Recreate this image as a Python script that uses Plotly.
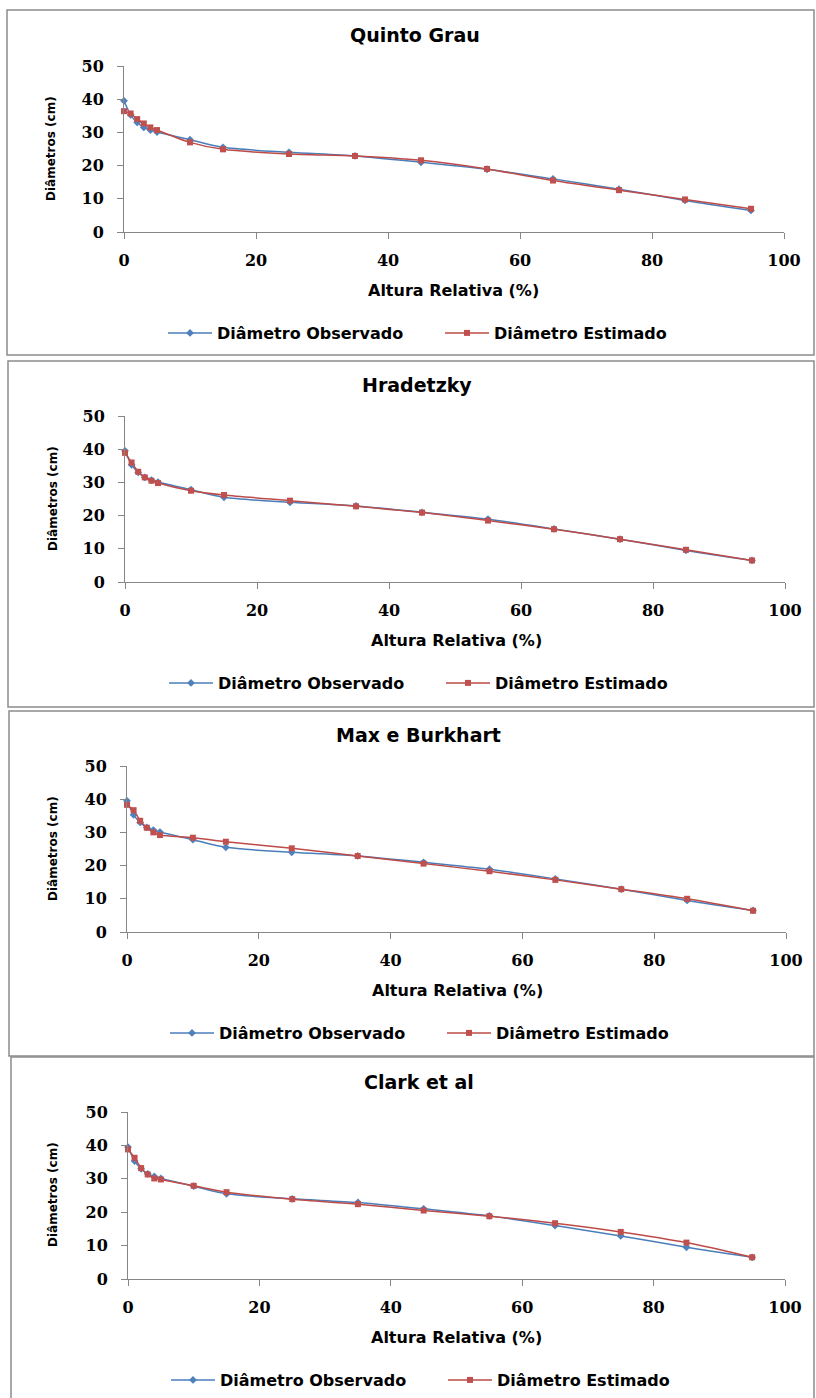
import plotly.graph_objects as go

# Relative height (%) of each measured section along the stem
altura = [0, 1, 2, 3, 4, 5, 10, 15, 25, 35, 45, 55, 65, 75, 85, 95]

# Observed diameters (cm)
diam_observado = [39.5, 35.3, 33.0, 31.5, 30.7, 30.1, 27.8, 25.5, 24.0, 22.9, 21.0, 18.9, 16.0, 12.9, 9.5, 6.5]

# Estimated diameters (cm) for each taper model
est_quinto_grau = [36.4, 35.7, 34.0, 32.7, 31.5, 30.7, 27.0, 24.9, 23.5, 22.9, 21.6, 19.0, 15.5, 12.6, 9.8, 7.0]
est_hradetzky = [38.9, 36.0, 33.2, 31.5, 30.5, 29.8, 27.5, 26.2, 24.5, 22.8, 20.9, 18.5, 15.9, 12.9, 9.7, 6.5]
est_max_burkhart = [38.3, 36.7, 33.5, 31.4, 30.0, 29.2, 28.4, 27.2, 25.2, 22.9, 20.6, 18.3, 15.7, 12.9, 10.0, 6.4]
est_clark = [38.8, 36.3, 33.2, 31.3, 30.1, 29.8, 27.9, 26.0, 23.9, 22.4, 20.5, 18.8, 16.7, 14.1, 10.9, 6.5]

modelos = ["Quinto Grau", "Hradetzky", "Max e Burkhart", "Clark et al"]
estimados = [est_quinto_grau, est_hradetzky, est_max_burkhart, est_clark]

x_ticks = [0, 20, 40, 60, 80, 100]
y_ticks = [0, 10, 20, 30, 40, 50]

W, H = 816, 1398


def fx(px):
    return px / W


def fy(py):
    return 1 - py / H


# Pixel layout of each panel: frame box, plot area, and text anchors
paineis = [
    dict(box=(7, 10, 814, 355), plot=(124, 66, 784, 232), title=(415, 35), xt=(453, 290), yt=(51, 149), leg=(163, 333)),
    dict(box=(8, 361, 814, 707), plot=(125, 416, 785, 582), title=(417, 385), xt=(456, 640), yt=(53, 499), leg=(164, 683)),
    dict(box=(9, 711, 814, 1056), plot=(127, 766, 786, 932), title=(419, 735), xt=(457, 990), yt=(53, 849), leg=(165, 1033)),
    dict(box=(11, 1057, 814, 1402), plot=(128, 1112, 785, 1279), title=(419, 1082), xt=(456, 1337), yt=(53, 1195), leg=(166, 1380)),
]

COR_OBS = "#4A7EBB"
COR_EST = "#BE4B48"
EIXO = "#868686"
FONTE = "DejaVu Sans"

fig = go.Figure()
layout = dict(
    width=W, height=H,
    margin=dict(l=0, r=0, t=0, b=0, autoexpand=False),
    paper_bgcolor="white", plot_bgcolor="white",
    showlegend=True,
    shapes=[], annotations=[],
)

for i, (nome, est, p) in enumerate(zip(modelos, estimados, paineis)):
    sfx = "" if i == 0 else str(i + 1)
    xa, ya = "x" + sfx, "y" + sfx
    leg = "legend" + sfx

    fig.add_trace(go.Scatter(
        x=altura, y=diam_observado, name="Diâmetro Observado",
        mode="lines+markers", xaxis=xa, yaxis=ya, legend=leg,
        line=dict(color=COR_OBS, width=1.5, shape="spline", smoothing=0.8),
        marker=dict(symbol="diamond", size=6, color="#4F81BD"),
        cliponaxis=False,
    ))
    fig.add_trace(go.Scatter(
        x=altura, y=est, name="Diâmetro Estimado",
        mode="lines+markers", xaxis=xa, yaxis=ya, legend=leg,
        line=dict(color=COR_EST, width=1.5, shape="spline", smoothing=0.8),
        marker=dict(symbol="square", size=6, color="#C0504D"),
        cliponaxis=False,
    ))

    x0, y0, x1, y1 = p["plot"]
    eixo_comum = dict(
        showline=True, linecolor=EIXO, linewidth=1,
        ticks="outside", tickcolor=EIXO, ticklen=6, tickwidth=1,
        showgrid=False, zeroline=False, fixedrange=True, automargin=False,
        tickfont=dict(family="DejaVu Serif", size=16, color="black", weight="bold"),
    )
    layout["xaxis" + sfx] = dict(
        eixo_comum, domain=[fx(x0), fx(x1)], anchor=ya,
        range=[0, 100], tickvals=x_ticks, ticklabelstandoff=8,
    )
    layout["yaxis" + sfx] = dict(
        eixo_comum, domain=[fy(y1), fy(y0)], anchor=xa,
        range=[0, 50], tickvals=y_ticks, ticklabelstandoff=10,
    )

    lx, ly = p["leg"]
    layout[leg] = dict(
        orientation="h", x=fx(lx), y=fy(ly), xanchor="left", yanchor="middle",
        xref="paper", yref="paper",
        font=dict(family=FONTE, size=16, color="black", weight="bold"),
        bgcolor="rgba(0,0,0,0)", borderwidth=0,
        entrywidth=218, entrywidthmode="pixels", itemwidth=44,
    )

    bx0, by0, bx1, by1 = p["box"]
    layout["shapes"].append(dict(
        type="rect", xref="paper", yref="paper",
        x0=fx(bx0), x1=fx(bx1), y0=fy(by1), y1=fy(by0),
        line=dict(color="#8c8c8c", width=1.5), fillcolor="rgba(0,0,0,0)",
        layer="below",
    ))

    tx, ty = p["title"]
    layout["annotations"].append(dict(
        text=nome, x=fx(tx), y=fy(ty), xref="paper", yref="paper",
        xanchor="center", yanchor="middle", showarrow=False,
        font=dict(family=FONTE, size=19, color="black", weight="bold"),
    ))
    ax_, ay_ = p["xt"]
    layout["annotations"].append(dict(
        text="Altura Relativa (%)", x=fx(ax_), y=fy(ay_), xref="paper", yref="paper",
        xanchor="center", yanchor="middle", showarrow=False,
        font=dict(family=FONTE, size=16, color="black", weight="bold"),
    ))
    bx_, by_ = p["yt"]
    layout["annotations"].append(dict(
        text="Diâmetros (cm)", x=fx(bx_), y=fy(by_), xref="paper", yref="paper",
        xanchor="center", yanchor="middle", showarrow=False, textangle=-90,
        font=dict(family=FONTE, size=12, color="black", weight="bold"),
    ))

fig.update_layout(**layout)
fig.write_html("out.html")
